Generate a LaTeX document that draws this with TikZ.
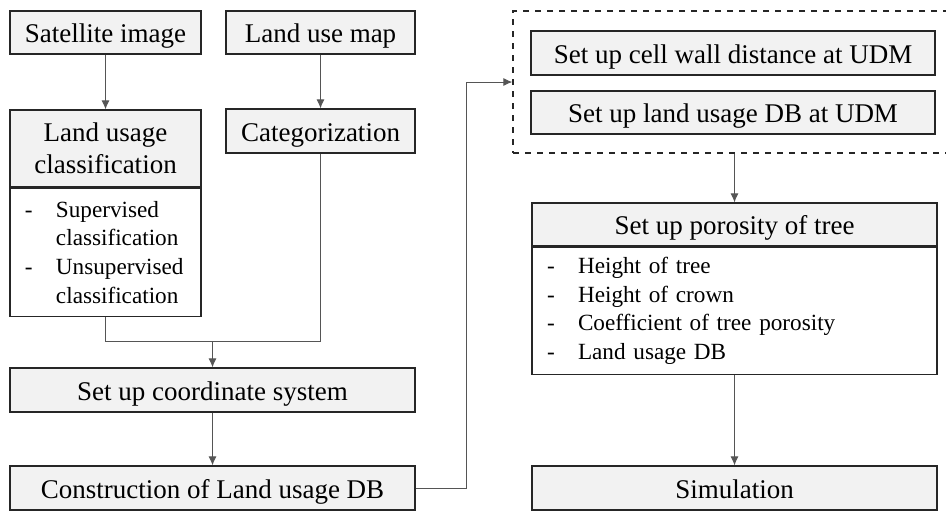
\documentclass[tikz,border=0pt]{standalone}
\usepackage{fontspec}
\setmainfont{Liberation Serif}
\usepackage{tikz}
\usetikzlibrary{arrows.meta,positioning}
\definecolor{boxgray}{RGB}{242,242,242}
\definecolor{linegray}{RGB}{85,85,85}
\tikzstyle{line} = [color=linegray, line width=0.5pt]
\tikzstyle{arrow} = [line, -{Latex[length=4.5pt,width=4pt]}]
\tikzstyle{stepbox} = [rectangle, draw=black!85, line width=0.6pt, fill=boxgray, inner sep=0pt, align=center, font=\fontsize{13.5}{16}\selectfont]
\tikzstyle{oneline} = [stepbox, text height=10.5pt, text depth=0.5pt]
\tikzstyle{listbox} = [rectangle, draw=black!85, line width=0.6pt, fill=white, inner xsep=7.5pt, inner ysep=0pt, align=left, font=\fontsize{11.6}{14.3}\selectfont]
\newcommand{\dashitem}[1]{\makebox[15.5pt][l]{-}\mbox{#1}}
\newcommand{\dashcont}[1]{\hspace*{15.5pt}\mbox{#1}}

\begin{document}
\begin{tikzpicture}[x=0.5pt, y=-0.5pt]
\useasboundingbox (0,0) rectangle (946,511);

% Left column: input data
\node[oneline, minimum width=95.5pt, minimum height=21.5pt] (sat) at (105.5,32.5) {Satellite image};
\node[oneline, minimum width=94.5pt, minimum height=21.5pt] (lum) at (320.5,32.5) {Land use map};

% Classification and categorization
\node[stepbox, minimum width=95.5pt, minimum height=38.5pt] (luc) at (105.5,148.5) {Land usage\\classification};
\node[listbox, below=0pt of luc, text width=80.5pt, minimum height=64pt] (luclist)
  {\dashitem{Supervised}\\\dashcont{classification}\\\dashitem{Unsupervised}\\\dashcont{classification}};
\node[oneline, minimum width=94.5pt, minimum height=22pt] (cat) at (320.5,131) {Categorization};

% Database construction
\node[oneline, minimum width=202.5pt, minimum height=22pt] (coord) at (212.5,390) {Set up coordinate system};
\node[oneline, minimum width=202.5pt, minimum height=22pt] (cons) at (212.5,488) {Construction of Land usage DB};

% Right column: UDM setup
\node[draw=black!85, line width=0.6pt, dashed, minimum width=223.5pt, minimum height=71pt, inner sep=0pt] (grp) at (736.5,82) {};
\node[oneline, minimum width=202pt, minimum height=22pt] (cell) at (733,53) {Set up cell wall distance at UDM};
\node[oneline, minimum width=202pt, minimum height=21.5pt] (udmdb) at (733,112.5) {Set up land usage DB at UDM};

% Porosity and simulation
\node[oneline, minimum width=202.5pt, minimum height=21.5pt] (por) at (734.5,224.5) {Set up porosity of tree};
\node[listbox, below=0pt of por, text width=187.5pt, minimum height=63.5pt] (porlist)
  {\dashitem{Height of tree}\\\dashitem{Height of crown}\\\dashitem{Coefficient of tree porosity}\\\dashitem{Land usage DB}};
\node[oneline, minimum width=202.5pt, minimum height=22pt] (sim) at (734.5,488) {Simulation};

% Connectors
\coordinate (mrg) at (212.5,341);
\coordinate (bend) at (466,82);
\draw[arrow] (sat) -- (luc);
\draw[arrow] (lum) -- (cat);
\draw[line] (luclist.south) |- (mrg);
\draw[line] (cat.south) |- (mrg);
\draw[arrow] (mrg) -- (coord.north);
\draw[arrow] (coord) -- (cons);
\draw[arrow] (cons.east) -| (bend) -- (grp.west);
\draw[arrow] (por.north |- grp.south) -- (por.north);
\draw[arrow] (porlist.south) -- (sim.north);
\end{tikzpicture}
\end{document}
